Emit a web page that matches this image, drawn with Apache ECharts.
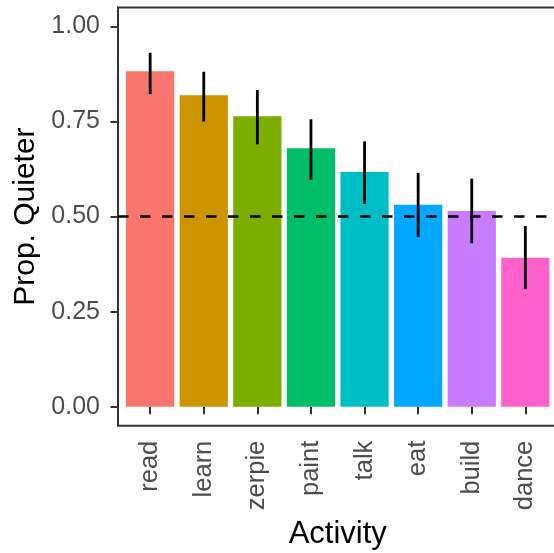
<!DOCTYPE html>
<html>
<head>
<meta charset="utf-8">
<script src="https://cdn.jsdelivr.net/npm/echarts@6/dist/echarts.min.js"></script>
<style>
html,body{margin:0;padding:0;background:#fff;}
#chart{width:554px;height:553px;}
</style>
</head>
<body>
<div id="chart"></div>
<script>
const categories = ['read', 'learn', 'zerpie', 'paint', 'talk', 'eat', 'build', 'dance'];
const proportions = [0.882, 0.819, 0.764, 0.680, 0.617, 0.531, 0.515, 0.392];
const lowerCI = [0.822, 0.750, 0.690, 0.597, 0.533, 0.446, 0.430, 0.309];
const upperCI = [0.931, 0.881, 0.833, 0.756, 0.698, 0.615, 0.600, 0.475];
const barColors = ['#F8766D', '#CD9600', '#7CAE00', '#00BE67', '#00BFC4', '#00A9FF', '#C77CFF', '#FF61CC'];
const yTicks = [0, 0.25, 0.5, 0.75, 1.0];
const referenceLine = 0.5;

const positions = categories.map((c, i) => i + 1);
const barData = categories.map((c, i) => [i + 1, proportions[i]]);
const errData = categories.map((c, i) => [i + 1, lowerCI[i], upperCI[i]]);

const chart = echarts.init(document.getElementById('chart'), null, {renderer: 'canvas'});
const font = '"Liberation Sans", Arial, Helvetica, sans-serif';

chart.setOption({
  animation: false,
  backgroundColor: '#ffffff',
  grid: {
    left: 118, top: 7.5, width: 439.5, height: 418.2,
    outerBoundsMode: 'none', containLabel: false,
    show: true, borderColor: '#333333', borderWidth: 2, backgroundColor: 'transparent'
  },
  xAxis: {
    type: 'value', min: 0.4, max: 8.6,
    splitLine: {show: false},
    axisLine: {show: false},
    axisTick: {show: true, length: 7.5, lineStyle: {color: '#333333', width: 2}, customValues: positions},
    axisLabel: {
      show: true, customValues: positions, rotate: 90, margin: 15,
      color: '#4D4D4D', fontSize: 25.5, fontFamily: font,
      formatter: v => categories[Math.round(v) - 1] || ''
    },
    name: 'Activity', nameLocation: 'middle', nameGap: 93,
    nameTextStyle: {color: '#000', fontSize: 31, fontFamily: font}
  },
  yAxis: {
    type: 'value', min: -0.05, max: 1.05,
    splitLine: {show: false},
    axisLine: {show: false},
    axisTick: {show: true, length: 7.5, lineStyle: {color: '#333333', width: 2}, customValues: yTicks},
    axisLabel: {
      show: true, customValues: yTicks, margin: 18,
      color: '#4D4D4D', fontSize: 25, fontFamily: font,
      formatter: v => v.toFixed(2)
    },
    name: 'Prop. Quieter', nameLocation: 'middle', nameGap: 76, nameRotate: 90,
    nameTextStyle: {color: '#000', fontSize: 30, fontFamily: font}
  },
  series: [
    {
      type: 'custom',
      data: barData,
      z: 2,
      renderItem: function (params, api) {
        const x = api.value(0), v = api.value(1);
        const p0 = api.coord([x - 0.45, v]);
        const p1 = api.coord([x + 0.45, 0]);
        return {
          type: 'rect',
          shape: {x: p0[0], y: p0[1], width: p1[0] - p0[0], height: p1[1] - p0[1]},
          style: {fill: barColors[params.dataIndex]}
        };
      },
      markLine: {
        silent: true, symbol: ['none', 'none'], z: 5,
        label: {show: false},
        lineStyle: {color: '#000', width: 2.6, type: [10.5, 11.5]},
        data: [{yAxis: referenceLine}]
      }
    },
    {
      type: 'custom',
      data: errData,
      z: 4,
      renderItem: function (params, api) {
        const x = api.value(0);
        const a = api.coord([x, api.value(1)]);
        const b = api.coord([x, api.value(2)]);
        return {
          type: 'line',
          shape: {x1: a[0], y1: a[1], x2: b[0], y2: b[1]},
          style: {stroke: '#000', lineWidth: 2.8}
        };
      }
    }
  ]
});
</script>
</body>
</html>
